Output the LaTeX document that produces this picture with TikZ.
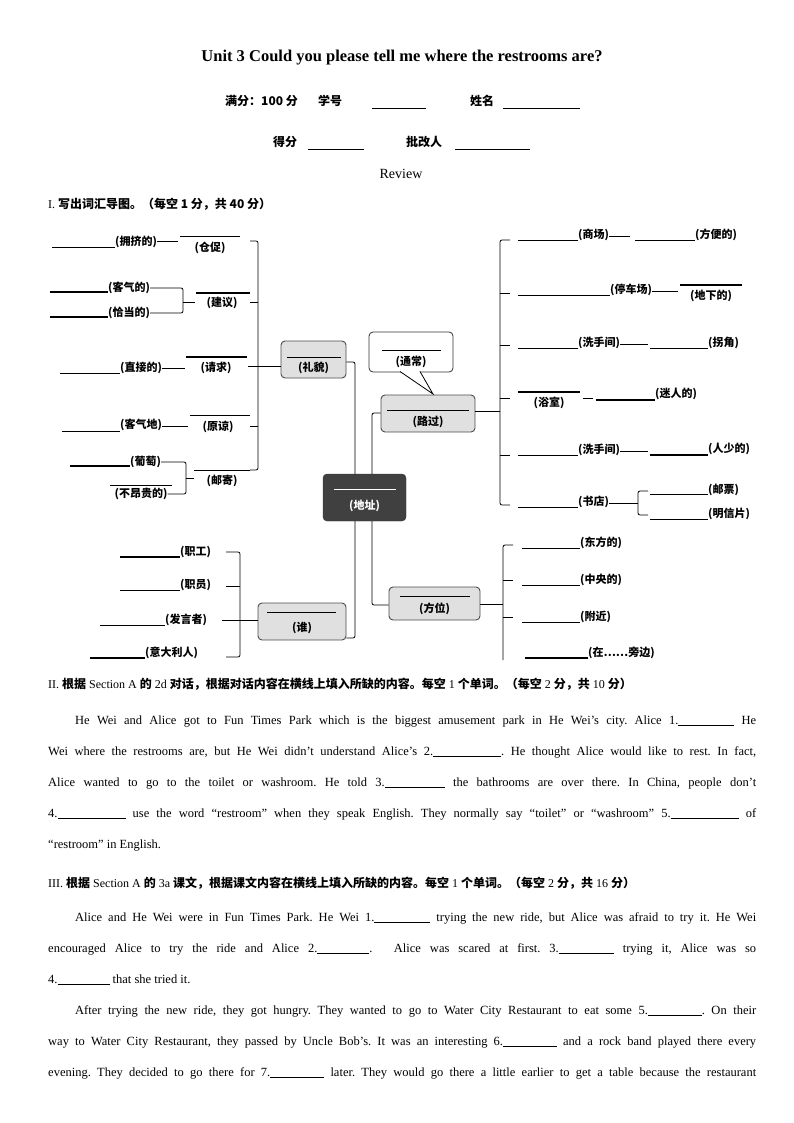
\documentclass[tikz,border=0pt]{standalone}
\usepackage{fontspec}
\setmainfont{Liberation Serif}
\newfontfamily\cjk{Noto Sans CJK SC}
\newcommand\cj[1]{{\cjk\bfseries #1}}
\newcommand\bl[1]{\rule[-1.5pt]{#1pt}{0.6pt}}
\newcommand\jl[1]{\parbox[b]{708pt}{\frenchspacing\fontsize{12.5}{13}\selectfont\parfillskip=0pt\noindent #1}}
\frenchspacing
\begin{document}
\begin{tikzpicture}[x=1pt,y=-1pt,
  lab/.style={font=\cjk\bfseries\fontsize{11}{11}\selectfont,inner sep=0pt},
  ln/.style={line width=0.8pt},
  bk/.style={line width=0.8pt,rounded corners=2pt},
  gbox/.style={draw=black!70,fill=black!12,rounded corners=4pt,line width=0.9pt,inner sep=0pt},
  txt/.style={anchor=base west,inner sep=0pt}]
\useasboundingbox (0,0) rectangle (794,1123);
% header
\node[inner sep=0pt,font=\bfseries\fontsize{16.5}{17}\selectfont] (title) at (402,58) {Unit 3 Could you please tell me where the restrooms are?};
\node[txt,font=\cjk\bfseries\fontsize{12}{12}\selectfont] (h1) at (225,106) {满分：100 分};
\node[txt,font=\cjk\bfseries\fontsize{12}{12}\selectfont] (h2) at (318,106) {学号};
\node[txt,font=\cjk\bfseries\fontsize{12}{12}\selectfont] (h3) at (470,106) {姓名};
\node[txt,font=\cjk\bfseries\fontsize{12}{12}\selectfont] (h4) at (273,147) {得分};
\node[txt,font=\cjk\bfseries\fontsize{12}{12}\selectfont] (h5) at (406,147) {批改人};
\draw (372,108) -- (426,108) (503,108) -- (580,108) (308,149) -- (364,149) (455,149) -- (530,149);
\node[inner sep=0pt,font=\fontsize{14}{14}\selectfont] (rev) at (401,174) {Review};
\node[txt,font=\fontsize{12}{12}\selectfont] (s1) at (48,209) {I. \cj{写出词汇导图。（每空 1 分，共 40 分）}};
% ---------- mind map: boxes
\node[gbox,minimum width=65pt,minimum height=37pt] (kecheng) at (313.5,359.5) {};
\draw (287,357) -- (341,357);
\node[lab] (kechengt) at (313.5,368) {(礼貌)};
\node[draw=black!80,fill=black!75,rounded corners=4pt,inner sep=0pt,minimum width=83pt,minimum height=47pt] (center) at (364.5,497.5) {};
\draw[white] (334,489) -- (396,489);
\node[lab,text=white] (centert) at (364.5,506) {(地址)};
\node[gbox,minimum width=94pt,minimum height=37pt] (luguo) at (428,413.5) {};
\draw (387,410) -- (469,410);
\node[lab] (luguot) at (428,422) {(路过)};
\node[draw=black!80,fill=white,rounded corners=4pt,line width=0.8pt,minimum width=84pt,minimum height=40pt,inner sep=0pt] (callout) at (411,352) {};
\draw[line width=0.8pt,fill=white] (400,371.5) -- (433,394) -- (420,371.5);
\draw[white,line width=1.2pt] (401,371.5) -- (419,371.5);
\draw (382,350) -- (441,350);
\node[lab] (calloutt) at (411,362) {(通常)};
\node[gbox,minimum width=88pt,minimum height=37pt] (shui) at (302,621.5) {};
\draw (267,612) -- (336,612);
\node[lab] (shuit) at (302,628) {(谁)};
\node[gbox,minimum width=91pt,minimum height=33pt] (fangwei) at (434.5,603.5) {};
\draw (400,596) -- (470,596);
\node[lab] (fangweit) at (434.5,609) {(方位)};
% center connectors
\draw[bk] (kecheng.east |- 0,362) -- (355,362) -- (355,474);
\draw[bk] (372,474) -- (372,413) -- (luguo.west |- 0,413);
\draw[bk] (355,521) -- (355,638) -- (shui.east |- 0,638);
\draw[bk] (372,521) -- (372,605) -- (fangwei.west |- 0,605);
% ---------- left upper branch
\draw[bk] (250,241) -- (258,241) -- (258,470) -- (250,470);
\draw[ln] (250,302) -- (258,302) (250,426) -- (258,426);
\draw[ln] (248,366) -- (kecheng.west |- 0,366);
% row1
\draw[line width=0.9pt] (52,247) -- (115,247);
\node[lab,anchor=west] (a1) at (115,242) {(拥挤的)};
\draw[ln] (a1.east |- 0,241) -- (178,241);
\draw (180,236) -- (240,236);
\node[lab] (a1b) at (210,248) {(仓促)};
% row2
\draw[line width=1.6pt] (50,292) -- (108,292) (50,317) -- (108,317);
\node[lab,anchor=west] (a2) at (108,288) {(客气的)};
\node[lab,anchor=west] (a3) at (108,313) {(恰当的)};
\draw[bk] (a2.east) -- (183,288) -- (183,313) -- (a3.east);
\draw[ln] (183,302) -- (195,302);
\draw[line width=1.4pt] (196,293) -- (250,293);
\node[lab] (a2b) at (222,303) {(建议)};
% row3
\draw (60,373) -- (120,373);
\node[lab,anchor=west] (a4) at (120,368) {(直接的)};
\draw[ln] (a4.east) -- (185,368);
\draw[line width=1.4pt] (186,357) -- (247,357);
\node[lab] (a4b) at (216,368) {(请求)};
% row4
\draw (62,431) -- (120,431);
\node[lab,anchor=west] (a5) at (120,425) {(客气地)};
\draw[ln] (a5.east |- 0,426) -- (188,426);
\draw (190,415) -- (250,415);
\node[lab] (a5b) at (218,427) {(原谅)};
% row5
\draw[line width=1.6pt] (70,466) -- (130,466);
\node[lab,anchor=west] (a6) at (130,462) {(葡萄)};
\draw (110,485) -- (172,485);
\node[lab] (a7) at (141,494) {(不昂贵的)};
\draw[bk] (a6.east) -- (186,462) -- (186,494) -- (a7.east);
\draw[ln] (186,478) -- (194,478);
\draw (194,470) -- (250,470);
\node[lab] (a6b) at (222,481) {(邮寄)};
% ---------- right upper branch
\draw[ln] (luguo.east |- 0,411) -- (500,411);
\draw[bk] (510,240) -- (500,240) -- (500,505) -- (510,505);
\foreach \yy in {293,345,398,455} \draw[ln] (500,\yy) -- (510,\yy);
% R1
\draw (518,240) -- (578,240);
\node[lab,anchor=west] (r1) at (578,235) {(商场)};
\draw[ln] (r1.east |- 0,236) -- (630,236);
\draw (635,240) -- (695,240);
\node[lab,anchor=west] (r1b) at (695,235) {(方便的)};
% R2
\draw (518,295) -- (610,295);
\node[lab,anchor=west] (r2) at (610,290) {(停车场)};
\draw[ln] (r2.east |- 0,291) -- (678,291);
\draw[line width=1.4pt] (680,285) -- (742,285);
\node[lab] (r2b) at (711,296) {(地下的)};
% R3
\draw (518,348) -- (578,348);
\node[lab,anchor=west] (r3) at (578,343) {(洗手间)};
\draw[ln] (r3.east |- 0,344) -- (648,344);
\draw (650,348) -- (708,348);
\node[lab,anchor=west] (r3b) at (708,343) {(拐角)};
% R4
\draw[line width=1.4pt] (518,392) -- (580,392);
\node[lab] (r4) at (549,403) {(浴室)};
\draw[ln] (583,398) -- (593,398);
\draw[line width=1.4pt] (596,400) -- (655,400);
\node[lab,anchor=west] (r4b) at (655,394) {(迷人的)};
% R5
\draw (518,455) -- (578,455);
\node[lab,anchor=west] (r5) at (578,450) {(洗手间)};
\draw[ln] (r5.east |- 0,451) -- (648,451);
\draw[line width=1.4pt] (650,455) -- (708,455);
\node[lab,anchor=west] (r5b) at (708,449) {(人少的)};
% R6
\draw (518,507) -- (578,507);
\node[lab,anchor=west] (r6) at (578,502) {(书店)};
\draw[ln] (r6.east |- 0,503) -- (638,503);
\draw[bk] (648,491) -- (638,491) -- (638,515) -- (648,515);
\draw (650,494) -- (708,494) (650,519) -- (708,519);
\node[lab,anchor=west] (r6a) at (708,490) {(邮票)};
\node[lab,anchor=west] (r6b) at (708,514) {(明信片)};
% ---------- lower left branch
\draw[bk] (226,552) -- (240,552) -- (240,657) -- (226,657);
\draw[ln] (226,586) -- (240,586);
\draw[ln] (222,620) -- (shui.west |- 0,620);
\draw[line width=1.4pt] (120,557) -- (180,557);
\node[lab,anchor=west] (l1) at (180,552) {(职工)};
\draw (120,590) -- (180,590);
\node[lab,anchor=west] (l2) at (180,585) {(职员)};
\draw (100,625) -- (165,625);
\node[lab,anchor=west] (l3) at (165,620) {(发言者)};
\draw[line width=1.6pt] (90,658) -- (145,658);
\node[lab,anchor=west] (l4) at (145,653) {(意大利人)};
% ---------- lower right branch
\draw[ln] (fangwei.east |- 0,604) -- (503,604);
\draw[bk] (513,545) -- (503,545) -- (503,660);
\foreach \yy in {580,617} \draw[ln] (503,\yy) -- (513,\yy);
\draw (522,548) -- (580,548);
\node[lab,anchor=west] (p1) at (580,543) {(东方的)};
\draw (522,585) -- (580,585);
\node[lab,anchor=west] (p2) at (580,580) {(中央的)};
\draw (522,622) -- (580,622);
\node[lab,anchor=west] (p3) at (580,617) {(附近)};
\draw[line width=1.6pt] (525,658) -- (588,658);
\node[lab,anchor=west] (p4) at (588,653) {(在……旁边)};
% ---------- section II
\node[txt,font=\fontsize{12}{12}\selectfont] (s2) at (48,688) {II. \cj{根据} Section A \cj{的} 2d \cj{对话，根据对话内容在横线上填入所缺的内容。每空} 1 \cj{个单词。（每空} 2 \cj{分，共} 10 \cj{分）}};
\node[txt] (p21) at (48,724) {\jl{\hspace*{27pt}He Wei and Alice got to Fun Times Park which is the biggest amusement park in He Wei's city. Alice 1.\bl{56} He}};
\node[txt] (p22) at (48,755) {\jl{Wei where the restrooms are, but He Wei didn't understand Alice's 2.\bl{68}. He thought Alice would like to rest. In fact,}};
\node[txt] (p23) at (48,786) {\jl{Alice wanted to go to the toilet or washroom. He told 3.\bl{60} the bathrooms are over there. In China, people don't}};
\node[txt] (p24) at (48,817) {\jl{4.\bl{68} use the word ``restroom'' when they speak English. They normally say ``toilet'' or ``washroom'' 5.\bl{68} of}};
\node[txt,font=\fontsize{12.5}{13}\selectfont] (p25) at (48,848) {``restroom'' in English.};
% ---------- section III
\node[txt,font=\fontsize{12}{12}\selectfont] (s3) at (48,887) {III. \cj{根据} Section A \cj{的} 3a \cj{课文，根据课文内容在横线上填入所缺的内容。每空} 1 \cj{个单词。（每空} 2 \cj{分，共} 16 \cj{分）}};
\node[txt] (p31) at (48,921) {\jl{\hspace*{27pt}Alice and He Wei were in Fun Times Park. He Wei 1.\bl{56} trying the new ride, but Alice was afraid to try it. He Wei}};
\node[txt] (p32) at (48,952) {\jl{encouraged Alice to try the ride and Alice 2.\bl{52}. \quad Alice was scared at first. 3.\bl{55} trying it, Alice was so}};
\node[txt,font=\fontsize{12.5}{13}\selectfont] (p33) at (48,983) {4.\bl{52} that she tried it.};
\node[txt] (p34) at (48,1014) {\jl{\hspace*{27pt}After trying the new ride, they got hungry. They wanted to go to Water City Restaurant to eat some 5.\bl{54}. On their}};
\node[txt] (p35) at (48,1045) {\jl{way to Water City Restaurant, they passed by Uncle Bob's. It was an interesting 6.\bl{54} and a rock band played there every}};
\node[txt] (p36) at (48,1076) {\jl{evening. They decided to go there for 7.\bl{54} later. They would go there a little earlier to get a table because the restaurant}};
\end{tikzpicture}
\end{document}
